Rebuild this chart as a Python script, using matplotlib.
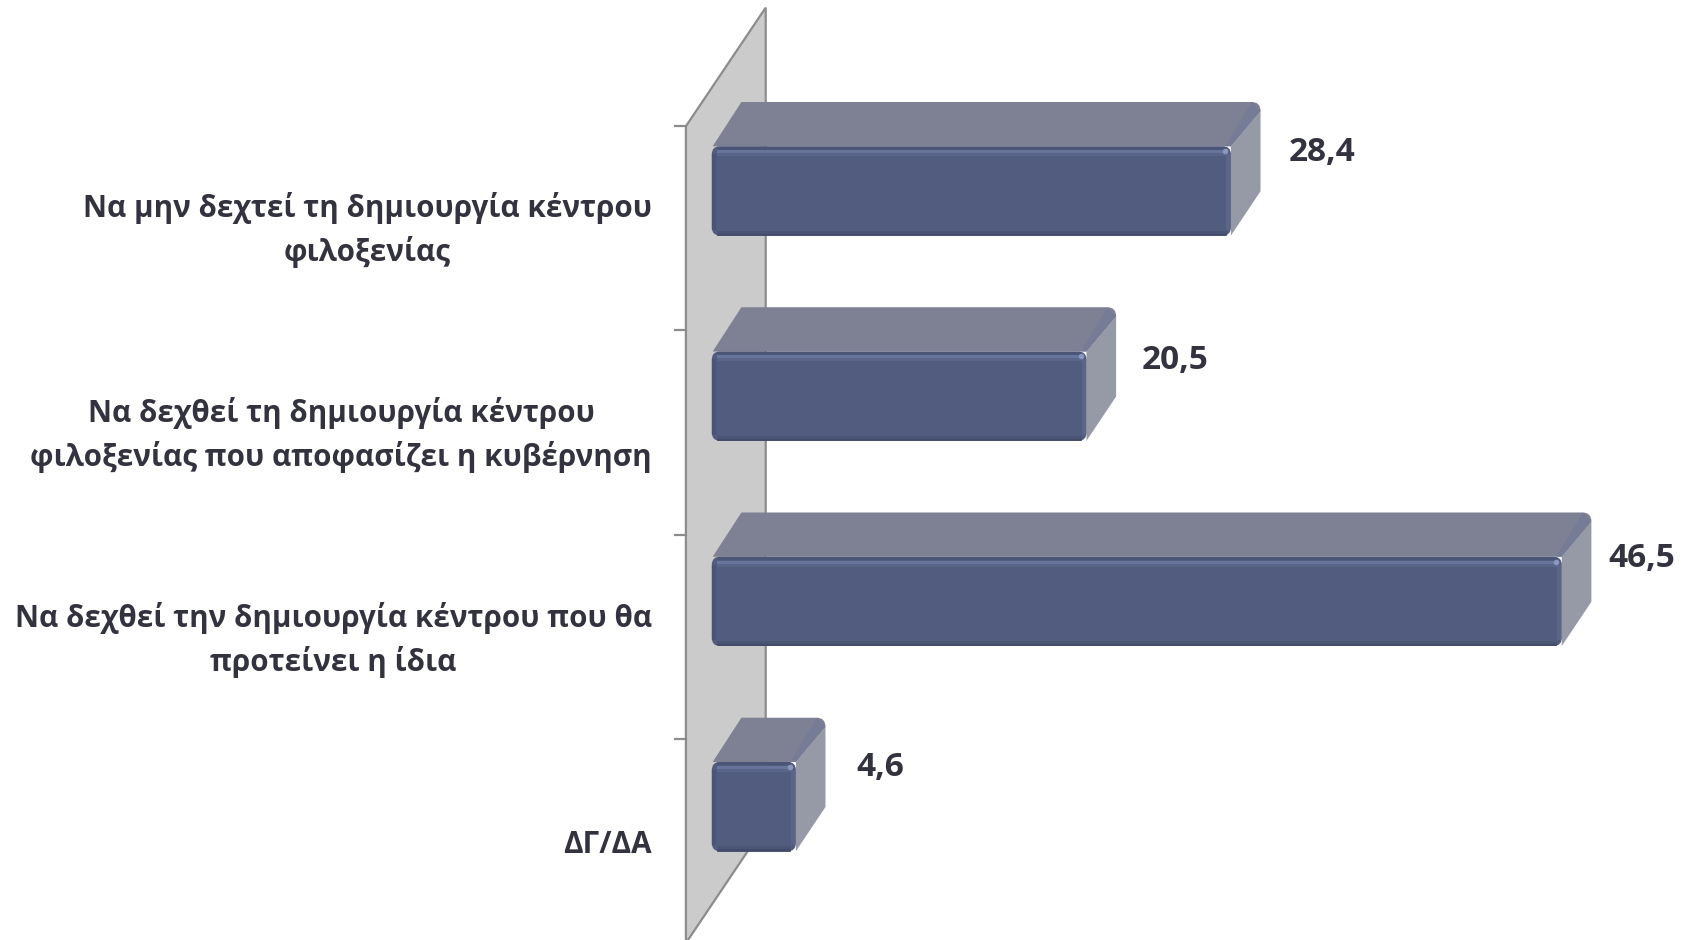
#!/usr/bin/env python3
import matplotlib
matplotlib.use('Agg')
import matplotlib.pyplot as plt
from matplotlib.patches import FancyBboxPatch, PathPatch, Polygon
from matplotlib.path import Path

categories = [
    'Να μην δεχτεί τη δημιουργία κέντρου\nφιλοξενίας',
    'Να δεχθεί τη δημιουργία κέντρου\nφιλοξενίας που αποφασίζει η κυβέρνηση',
    'Να δεχθεί την δημιουργία κέντρου που θα\nπροτείνει η ίδια',
    'ΔΓ/ΔΑ',
]
values = [28.4, 20.5, 46.5, 4.6]
value_labels = ['28,4', '20,5', '46,5', '4,6']

# hand placed label nudges, as in the original
label_dx = [5.0, 4.85, 4.4, 4.6]
label_dy = [-0.189, -0.173, -0.21, -0.189]
text_dy = 0.189

FRONT = '#525c7e'
TOP = '#7e8093'
SIDE = '#969aa6'
BEVEL = '#767b96'
TEXT = '#333340'
WALL = '#cbcbcb'
WALL_EDGE = '#8c8c8c'

PX_X = 18.28   # pixels per value unit
PX_Y = 205.2   # pixels per category
HALF = 0.2175
DEPTH_X = 1.62
DEPTH_Y = 0.2155


def draw_bar(ax, y, v):
    top = y - HALF
    bot = y + HALF
    rx = 9 / PX_X
    ry = 9 / PX_Y

    # top face, back right corner rounded
    verts = [(0.05, top), (DEPTH_X, top - DEPTH_Y),
             (v + DEPTH_X - rx, top - DEPTH_Y), (v + DEPTH_X, top - DEPTH_Y), (v + DEPTH_X, top - DEPTH_Y + ry),
             (v, top), (0.05, top)]
    codes = [Path.MOVETO, Path.LINETO, Path.LINETO, Path.CURVE3, Path.CURVE3, Path.LINETO, Path.CLOSEPOLY]
    ax.add_patch(PathPatch(Path(verts, codes), fc=TOP, ec='none', zorder=3))

    # bevel running down the back right edge of the top face
    ax.add_patch(Polygon([(v, top), (v - 0.3, top), (v + DEPTH_X - 0.55, top - DEPTH_Y + 0.012),
                          (v + DEPTH_X - rx, top - DEPTH_Y), (v + DEPTH_X, top - DEPTH_Y + ry)],
                         fc=BEVEL, ec='none', zorder=3.1))

    # right face
    ax.add_patch(Polygon([(v, top), (v + DEPTH_X, top - DEPTH_Y + ry),
                          (v + DEPTH_X, bot - DEPTH_Y), (v, bot)],
                         fc=SIDE, ec='none', zorder=3))

    # front face
    ax.add_patch(FancyBboxPatch((0, top), v, bot - top,
                                boxstyle='round,pad=0,rounding_size=0.45',
                                mutation_aspect=PX_X / PX_Y,
                                fc=FRONT, ec='none', zorder=4))

    # soft edges on the front face
    x0, x1 = 0.35, v - 0.35
    ax.plot([x0, x1], [top + 1.5 / PX_Y] * 2, color='#4b5578', lw=2, zorder=5)
    ax.plot([x0, x1], [top + 5 / PX_Y] * 2, color='#67749b', lw=2.2, zorder=5)
    ax.plot([x0, x1], [top + 8 / PX_Y] * 2, color='#5a658a', lw=2, zorder=5)
    ax.plot([x0, x1], [bot - 1.5 / PX_Y] * 2, color='#414a68', lw=2, zorder=5)
    ax.plot([x0, x1], [bot - 4 / PX_Y] * 2, color='#4a5474', lw=2, zorder=5)
    ax.plot([v - 0.14] * 2, [top + 10 / PX_Y, bot - 8 / PX_Y], color='#5a6588', lw=3, zorder=5)
    ax.plot([0.12] * 2, [top + 10 / PX_Y, bot - 8 / PX_Y], color='#4a5476', lw=3, zorder=5)
    ax.plot([v - 0.32], [top + 5 / PX_Y], 'o', ms=3, color='#8b98bd', zorder=6)


def main():
    fig = plt.figure(figsize=(16.91, 9.40), dpi=100)
    ax = fig.add_axes([0, 0, 1, 1])
    ax.set_xlim(-38.94, 53.57)
    ax.set_ylim(3.65, -0.93)
    ax.axis('off')

    # back wall, seen in perspective
    wall_x0, wall_x1 = -1.416, 2.95
    tick_y = [i * 0.995 - 0.315 for i in range(5)]
    wall_rise = 0.578
    ax.add_patch(Polygon([(wall_x0, tick_y[0]), (wall_x1, tick_y[0] - wall_rise),
                          (wall_x1, tick_y[4] - wall_rise), (wall_x0, tick_y[4])],
                         closed=True, fc=WALL, ec=WALL_EDGE, lw=1.6, zorder=1, clip_on=True))
    for ty in tick_y[:4]:
        ax.plot([wall_x0 - 0.6, wall_x0], [ty, ty], color=WALL_EDGE, lw=1.6, zorder=2)

    for i, v in enumerate(values):
        draw_bar(ax, i, v)
        ax.text(v + label_dx[i], i + label_dy[i], value_labels[i], ha='center', va='center',
                fontsize=24, fontweight='bold', family='Open Sans', color=TEXT, zorder=7)
        ax.text(wall_x0 - 1.85, i + text_dy, categories[i], ha='right', va='center', multialignment='center',
                fontsize=21.3, fontweight='bold', family='Open Sans', color=TEXT, linespacing=1.47, zorder=7)

    fig.savefig('out.png', dpi=100, facecolor='white')


if __name__ == '__main__':
    main()
